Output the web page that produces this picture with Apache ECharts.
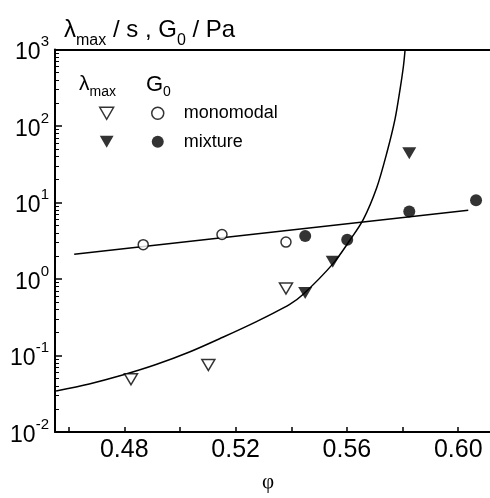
<!DOCTYPE html>
<html><head><meta charset="utf-8">
<script src="https://cdn.jsdelivr.net/npm/echarts@6/dist/echarts.min.js"></script>
<style>html,body{margin:0;padding:0;background:#fff}#c{width:490px;height:498px}</style>
</head><body><div id="c"></div>
<script>
// ---- data ----
const lambdaMonoPhi = [0.4824, 0.5102, 0.5381];
const lambdaMonoVal = [0.049, 0.075, 0.75];
const lambdaMixPhi  = [0.5450, 0.5549, 0.5824];
const lambdaMixVal  = [0.656, 1.68, 44];
const g0MonoPhi = [0.4868, 0.5151, 0.5381];
const g0MonoVal = [2.81, 3.82, 3.04];
const g0MixPhi  = [0.5450, 0.5601, 0.5824, 0.6064];
const g0MixVal  = [3.64, 3.26, 7.64, 10.7];
const g0FitPhi  = [0.4620, 0.6036];
const g0FitVal  = [2.11, 7.94];
const lambdaFitPhi = [0.4555, 0.4674, 0.4794, 0.4914, 0.5034, 0.5154, 0.5273, 0.5393, 0.5443, 0.5551, 0.5611, 0.5659, 0.5707, 0.5743, 0.5773, 0.5791, 0.5803, 0.5809];
const lambdaFitVal = [0.0344, 0.0425, 0.0555, 0.0761, 0.111, 0.173, 0.275, 0.462, 0.631, 1.60, 3.23, 6.02, 15.6, 44, 124, 303, 604, 991];
const xTickValues  = [0.46, 0.48, 0.50, 0.52, 0.54, 0.56, 0.58, 0.60];
const xLabelValues = [0.48, 0.52, 0.56, 0.60];

const FONT = '"Liberation Sans", Arial, Helvetica, sans-serif';
const zip = (a, b) => a.map((v, i) => [v, b[i]]);
const chart = echarts.init(document.getElementById('c'), null, {renderer: 'canvas'});

const X_MIN = 0.45510, X_MAX = 0.61141, Y_MIN = 0.01, Y_MAX = 1000;
const DOWN_TRI = 'path://M0,0L10,0L5,8.66Z';

const richTxt = (big, small, subDrop) => ({
  l: {fontFamily: FONT, fontSize: big, fontWeight: 'normal', color: '#000', lineHeight: big + 4, verticalAlign: 'top'},
  s: {fontFamily: FONT, fontSize: small, fontWeight: 'normal', color: '#000', lineHeight: small, verticalAlign: 'top',
      padding: [subDrop, 0, 0, 0]}
});

chart.setOption({
  animation: false,
  backgroundColor: '#fff',
  textStyle: {fontFamily: FONT, color: '#000'},
  title: [
    {text: '{l|λ}{s|max}{l| / s , G}{s|0}{l| / Pa}', left: 64, top: 18.5, padding: 0,
     textStyle: {fontWeight: 'normal', rich: richTxt(24, 16, 14.5)}},
    {text: '{l|λ}{s|max}', left: 79, top: 74, padding: 0,
     textStyle: {fontWeight: 'normal', rich: richTxt(21, 14, 11)}},
    {text: '{l|G}{s|0}', left: 146, top: 74, padding: 0,
     textStyle: {fontWeight: 'normal', rich: richTxt(22, 14, 11)}}
  ],
  legend: [
    {data: [
       {name: 'λ monomodal', icon: DOWN_TRI, itemStyle: {color: '#fff', borderColor: '#000', borderWidth: 1.5}},
       {name: 'λ mixture', icon: DOWN_TRI, itemStyle: {color: '#000', borderColor: '#000', borderWidth: 0}}
     ],
     orient: 'vertical', left: 99, top: 103.3, padding: 0,
     itemWidth: 14, itemHeight: 12, itemGap: 8.4, formatter: () => ' ',
     textStyle: {fontSize: 18, lineHeight: 20}, selectedMode: false},
    {data: [
       {name: 'monomodal', icon: 'circle', itemStyle: {color: '#fff', borderColor: '#000', borderWidth: 1.5}},
       {name: 'mixture', icon: 'circle', itemStyle: {color: '#000', borderColor: '#000', borderWidth: 0}}
     ],
     orient: 'vertical', left: 151, top: 103.3, padding: 0,
     itemWidth: 12, itemHeight: 12, itemGap: 8.4,
     textStyle: {fontFamily: FONT, fontSize: 18, lineHeight: 20, color: '#000', padding: [0, 0, 0, 15]},
     selectedMode: false}
  ],
  grid: {left: 55, right: 0, top: 49.5, bottom: 60.5, containLabel: false},
  xAxis: [
    {type: 'value', min: X_MIN, max: X_MAX,
     name: 'φ', nameLocation: 'middle', nameGap: 40,
     nameTextStyle: {fontFamily: '"Liberation Serif", "Times New Roman", serif', fontSize: 21, color: '#000', padding: [0, 9, 0, 0]},
     axisLine: {show: true, onZero: false, lineStyle: {color: '#000', width: 2}},
     axisTick: {show: true, inside: true, length: 5, customValues: xTickValues, lineStyle: {color: '#000', width: 1.5}},
     axisLabel: {show: true, customValues: xLabelValues, margin: 6, fontFamily: FONT, fontSize: 25, color: '#000',
                 formatter: v => v.toFixed(2)},
     splitLine: {show: false}},
    {type: 'value', position: 'top', min: X_MIN, max: X_MAX,
     axisLine: {show: true, onZero: false, lineStyle: {color: '#000', width: 2}},
     axisTick: {show: false}, axisLabel: {show: false}, splitLine: {show: false}}
  ],
  yAxis: [
    {type: 'log', logBase: 10, min: Y_MIN, max: Y_MAX,
     axisLine: {show: true, onZero: false, lineStyle: {color: '#000', width: 2}},
     axisTick: {show: true, inside: true, length: 7, lineStyle: {color: '#000', width: 1.5}},
     minorTick: {show: true, splitNumber: 9, length: 4, lineStyle: {color: '#000', width: 1}},
     axisLabel: {show: true, margin: 6,
       formatter: v => '{b|10}{s|' + Math.round(Math.log10(v)) + '}',
       rich: {
         b: {fontFamily: FONT, fontSize: 23, color: '#000', lineHeight: 30, verticalAlign: 'bottom'},
         s: {fontFamily: FONT, fontSize: 15, color: '#000', lineHeight: 15, verticalAlign: 'top'}
       }},
     splitLine: {show: false}, minorSplitLine: {show: false}}
  ],
  series: [
    {name: 'λ fit', type: 'line', data: zip(lambdaFitPhi, lambdaFitVal), smooth: 0.3,
     showSymbol: false, symbol: 'none', lineStyle: {color: '#000', width: 1.5}, z: 1, clip: true},
    {name: 'G0 fit', type: 'line', data: zip(g0FitPhi, g0FitVal),
     showSymbol: false, symbol: 'none', lineStyle: {color: '#000', width: 1.5}, z: 1},
    {name: 'λ monomodal', type: 'scatter', data: zip(lambdaMonoPhi, lambdaMonoVal),
     symbol: 'triangle', symbolRotate: 180, symbolSize: [13, 11],
     itemStyle: {color: '#fff', borderColor: '#000', borderWidth: 1.5}, z: 3},
    {name: 'λ mixture', type: 'scatter', data: zip(lambdaMixPhi, lambdaMixVal),
     symbol: 'triangle', symbolRotate: 180, symbolSize: [14, 12],
     itemStyle: {color: '#000', borderColor: '#000', borderWidth: 0}, z: 3},
    {name: 'monomodal', type: 'scatter', data: zip(g0MonoPhi, g0MonoVal),
     symbol: 'circle', symbolSize: 10,
     itemStyle: {color: '#fff', borderColor: '#000', borderWidth: 1.5}, z: 3},
    {name: 'mixture', type: 'scatter', data: zip(g0MixPhi, g0MixVal),
     symbol: 'circle', symbolSize: 12,
     itemStyle: {color: '#000', borderColor: '#000', borderWidth: 0}, z: 3}
  ]
});
</script></body></html>
